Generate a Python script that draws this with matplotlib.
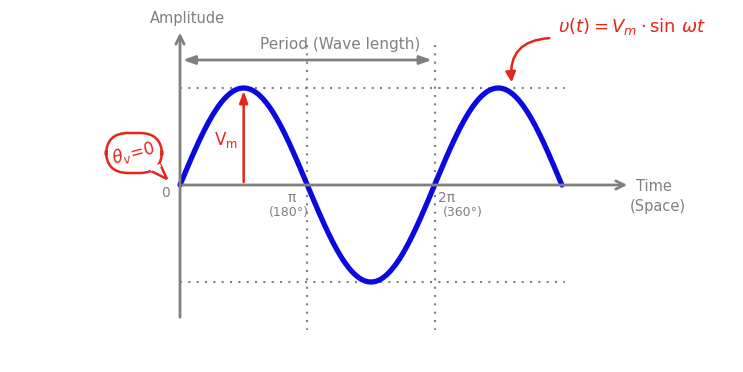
import numpy as np
import matplotlib
matplotlib.use("Agg")
import matplotlib.pyplot as plt
from matplotlib.patches import FancyArrowPatch, FancyBboxPatch, Polygon

# ---- data ----
Vm = 1.0
n_half_periods = 3            # wave drawn from 0 to 3*pi
tick_positions = [np.pi, 2 * np.pi]
tick_labels = ["π", "2π"]
tick_degrees = ["(180°)", "(360°)"]

t = np.linspace(0, n_half_periods * np.pi, 400)
v = Vm * np.sin(t)

# ---- figure (axes cover the whole canvas) ----
fig = plt.figure(figsize=(7.43, 3.72), dpi=100)
ax = fig.add_axes([0, 0, 1, 1])
px = np.pi / 127.3          # radians per pixel
py = 1 / 97.0               # amplitude per pixel
ax.set_xlim(-180 * px, (743 - 180) * px)
ax.set_ylim((185 - 372) * py, 185 * py)
ax.axis("off")

gray = "#808080"
red = "#e8231a"
blue = "#0a0ae0"

def X(p):  # pixel -> data x
    return (p - 180) * px

def Y(p):  # pixel -> data y
    return (185 - p) * py

# axes arrows
ax.annotate("", xy=(0, Y(30)), xytext=(0, Y(320)),
            arrowprops=dict(arrowstyle="->,head_width=0.3,head_length=0.6", color=gray, lw=2))
ax.annotate("", xy=(X(630), 0), xytext=(0, 0),
            arrowprops=dict(arrowstyle="->,head_width=0.3,head_length=0.6", color=gray, lw=2))

# dotted guides
ax.plot([0, X(565)], [Vm, Vm], ls=(0, (1, 3)), color=gray, lw=1.5)
ax.plot([0, X(565)], [-Vm, -Vm], ls=(0, (1, 3)), color=gray, lw=1.5)
for tp in tick_positions:
    ax.plot([tp, tp], [Y(45), Y(330)], ls=(0, (1, 3)), color=gray, lw=1.5)

# period arrow
ax.annotate("", xy=(2 * np.pi, Y(60)), xytext=(0, Y(60)),
            arrowprops=dict(arrowstyle="<|-|>,head_width=0.25,head_length=0.7", color=gray, lw=2))
ax.text(X(340), Y(45), "Period (Wave length)", color=gray, fontsize=11, ha="center", va="center")

# sine wave
ax.plot(t, v, color=blue, lw=3.8, solid_capstyle="round")

# Vm arrow
ax.annotate("", xy=(np.pi / 2, Vm), xytext=(np.pi / 2, 0),
            arrowprops=dict(arrowstyle="-|>,head_width=0.25,head_length=0.7", color=red, lw=1.8))
ax.text(X(226), Y(140), "$\\mathregular{V_m}$", color=red, fontsize=12, ha="center", va="center")

# labels
ax.text(X(187), Y(18), "Amplitude", color=gray, fontsize=10.5, ha="center", va="center")
ax.text(X(165), Y(193), "0", color=gray, fontsize=10, ha="center", va="center")
for tp, lab, deg, dx in zip(tick_positions, tick_labels, tick_degrees, [-16, 12]):
    ax.text(tp + dx * px, Y(198), lab, color=gray, fontsize=10, ha="center", va="center")
    ax.text(tp + (dx + 2 + (14 if dx > 0 else -4)) * px, Y(213), deg, color=gray, fontsize=9,
            ha="center", va="center")
ax.text(X(636), Y(187), "Time", color=gray, fontsize=10.5, ha="left", va="center")
ax.text(X(630), Y(207), "(Space)", color=gray, fontsize=10.5, ha="left", va="center")

# formula
ax.text(X(632), Y(27), r"$\upsilon(t) = V_m \cdot \sin\,\omega t$", color=red, fontsize=13,
        ha="center", va="center")
arr = FancyArrowPatch((X(552), Y(38)), (X(512), Y(85)),
                      connectionstyle="arc3,rad=0.55",
                      arrowstyle="-|>,head_width=3,head_length=6", color=red, lw=1.8)
ax.add_patch(arr)

# theta bubble
bub = FancyBboxPatch((X(106), Y(173)), 56 * px, 40 * py,
                     boxstyle="round,pad=0,rounding_size=0.55",
                     fc="white", ec=red, lw=1.8, mutation_aspect=py / px, zorder=3)
ax.add_patch(bub)
tail = Polygon([(X(151), Y(171)), (X(167), Y(179)), (X(160), Y(164))], closed=False,
               fc="white", ec=red, lw=1.8, zorder=4)
ax.add_patch(tail)
ax.plot([X(152), X(159)], [Y(169), Y(166)], color="white", lw=2.5, zorder=5)
ax.text(X(134), Y(153), r"$\theta_v\!=\!0$", color=red, fontsize=12, ha="center", va="center",
        rotation=15, zorder=6)

fig.savefig("out.png", dpi=100)
